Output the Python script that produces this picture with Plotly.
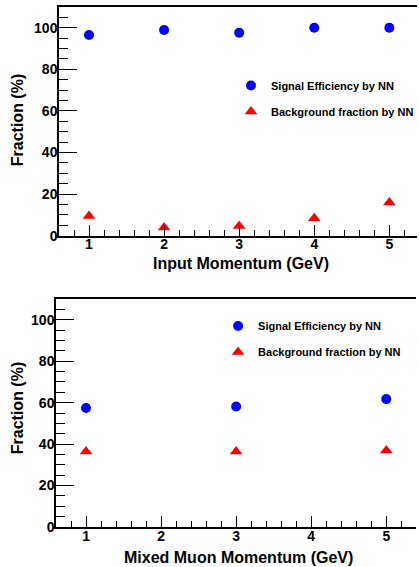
import plotly.graph_objects as go

# ---- data ----
momentum_top = [1, 2, 3, 4, 5]
signal_top = [96.5, 98.9, 97.6, 100.0, 100.0]
background_top = [9.5, 4.0, 4.7, 8.4, 16.0]

momentum_bot = [1, 3, 5]
signal_bot = [57.4, 58.1, 61.7]
background_bot = [36.4, 36.4, 36.9]

sig_name = "Signal Efficiency by NN"
bkg_name = "Background fraction by NN"
xtitle_top = "Input Momentum (GeV)"
xtitle_bot = "Mixed Muon Momentum (GeV)"
ytitle = "Fraction (%)"

FONT = "Liberation Sans, Arial, Helvetica, sans-serif"
W, H = 419, 567
ML, MR, MT, MB = 56, 0, 7, 40
PW, PH = W - ML - MR, H - MT - MB


def px_x(px):
    return (px - ML) / PW


def px_y(py):
    return (H - MB - py) / PH


fig = go.Figure()

fig.add_trace(go.Scatter(x=momentum_top, y=signal_top, mode="markers", name=sig_name,
                         marker=dict(symbol="circle", size=10, color="#0000ff"),
                         xaxis="x", yaxis="y", legend="legend", legendgroup="a"))
fig.add_trace(go.Scatter(x=momentum_top, y=background_top, mode="markers", name=bkg_name,
                         marker=dict(symbol="triangle-up", size=11, color="#ff0000"),
                         xaxis="x", yaxis="y", legend="legend", legendgroup="b"))
fig.add_trace(go.Scatter(x=momentum_bot, y=signal_bot, mode="markers", name=sig_name,
                         marker=dict(symbol="circle", size=10, color="#0000ff"),
                         xaxis="x2", yaxis="y2", legend="legend2", legendgroup="c"))
fig.add_trace(go.Scatter(x=momentum_bot, y=background_bot, mode="markers", name=bkg_name,
                         marker=dict(symbol="triangle-up", size=11, color="#ff0000"),
                         xaxis="x2", yaxis="y2", legend="legend2", legendgroup="d"))

tickfont = dict(family=FONT, size=14, color="black", weight="bold")


def xaxis_def(domain, rng, anchor):
    return dict(domain=domain, range=rng, anchor=anchor, showgrid=False, zeroline=False,
                showline=True, linecolor="black", linewidth=1.5, mirror=True,
                ticks="inside", ticklen=11, tickwidth=1, tickcolor="black",
                tick0=0, dtick=1, tickfont=tickfont, ticklabelstandoff=-5,
                minor=dict(ticks="inside", ticklen=6, tickwidth=1, tickcolor="black",
                           dtick=0.2, tick0=0, showgrid=False))


def yaxis_def(domain, anchor):
    return dict(domain=domain, range=[0, 110], anchor=anchor, showgrid=False, zeroline=False,
                showline=True, linecolor="black", linewidth=1.5, mirror=False,
                ticks="inside", ticklen=18, tickwidth=1, tickcolor="black",
                tick0=0, dtick=20, tickfont=tickfont, ticklabelstandoff=-3,
                minor=dict(ticks="inside", ticklen=9, tickwidth=1, tickcolor="black",
                           dtick=5, tick0=0, showgrid=False))


top_dom_y = [px_y(235.7), 1]
bot_dom_y = [0, px_y(299)]

legend_font = dict(family=FONT, size=11, color="black", weight="bold")

fig.update_layout(
    width=W, height=H,
    margin=dict(l=ML, r=MR, t=MT, b=MB),
    paper_bgcolor="white", plot_bgcolor="white",
    xaxis=xaxis_def([px_x(59), 1], [0.6, 0.6 + (W - 59) / 75.5], "y"),
    yaxis=yaxis_def(top_dom_y, "x"),
    xaxis2=xaxis_def([0, px_x(418.3)], [0.6, 5.4], "y2"),
    yaxis2=yaxis_def(bot_dom_y, "x2"),
    legend=dict(x=px_x(232), y=px_y(71), xanchor="left", yanchor="top",
                bgcolor="rgba(0,0,0,0)", font=legend_font, traceorder="grouped",
                tracegroupgap=7),
    legend2=dict(x=px_x(219), y=px_y(311.5), xanchor="left", yanchor="top",
                 bgcolor="rgba(0,0,0,0)", font=legend_font, traceorder="grouped",
                 tracegroupgap=7),
    showlegend=True,
)

title_font = dict(family=FONT, size=16, color="black", weight="bold")
fig.add_annotation(text=xtitle_top, x=px_x(242.5), y=px_y(263), xref="paper", yref="paper",
                   showarrow=False, font=title_font, xanchor="center", yanchor="middle")
fig.add_annotation(text=xtitle_bot, x=px_x(239.7), y=px_y(557), xref="paper", yref="paper",
                   showarrow=False, font=title_font, xanchor="center", yanchor="middle")
fig.add_annotation(text=ytitle, x=px_x(17), y=px_y(120), xref="paper", yref="paper",
                   showarrow=False, font=title_font, textangle=-90,
                   xanchor="center", yanchor="middle")
fig.add_annotation(text=ytitle, x=px_x(17), y=px_y(408), xref="paper", yref="paper",
                   showarrow=False, font=title_font, textangle=-90,
                   xanchor="center", yanchor="middle")

fig.write_html("out.html", config={"displayModeBar": False},
               post_script="document.body.style.margin='0px';document.body.style.overflow='hidden';")
